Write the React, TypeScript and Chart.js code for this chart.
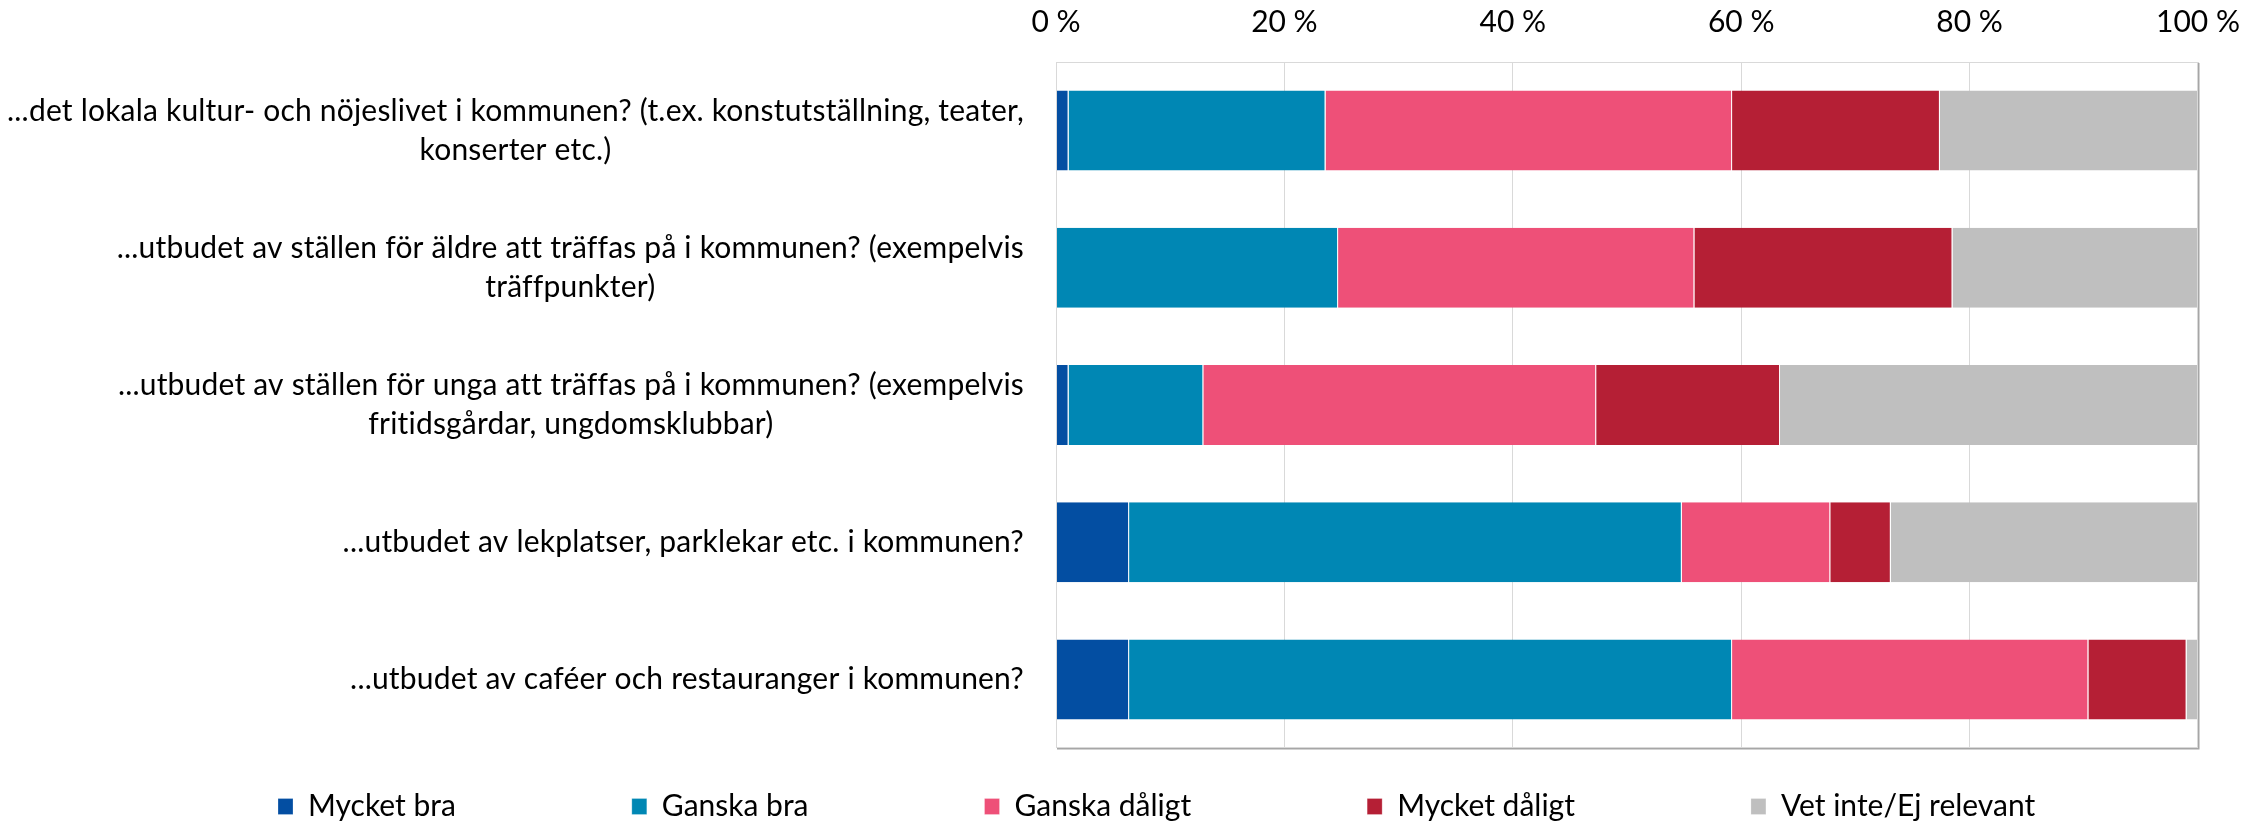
import React, { useEffect, useRef } from 'react';
import { Chart, registerables } from 'chart.js';

Chart.register(...registerables);

const categoryLines: string[][] = [
  ['...det lokala kultur- och nöjeslivet i kommunen? (t.ex. konstutställning, teater,', 'konserter etc.)'],
  ['...utbudet av ställen för äldre att träffas på i kommunen? (exempelvis', 'träffpunkter)'],
  ['...utbudet av ställen för unga att träffas på i kommunen? (exempelvis', 'fritidsgårdar, ungdomsklubbar)'],
  ['...utbudet av lekplatser, parklekar etc. i kommunen?'],
  ['...utbudet av caféer och restauranger i kommunen?'],
];

const seriesNames = ['Mycket bra', 'Ganska bra', 'Ganska dåligt', 'Mycket dåligt', 'Vet inte/Ej relevant'];
const mycketBra = [1.1, 0, 1.1, 6.4, 6.4];
const ganskaBra = [22.5, 24.7, 11.8, 48.4, 52.8];
const ganskaDaligt = [35.6, 31.2, 34.4, 13.0, 31.2];
const mycketDaligt = [18.2, 22.6, 16.1, 5.3, 8.6];
const vetInte = [22.6, 21.5, 36.6, 26.9, 1.0];
const xTickValues = [0, 20, 40, 60, 80, 100];
const seriesColors = ['#034EA2', '#0087B4', '#EE5078', '#B51F35', '#BFBFBF'];

const FONT = 'Lato';
const FONT_SIZE = 30;

const categoryLabelPlugin = {
  id: 'categoryLabels',
  afterDraw(chart: any) {
    const ctx = chart.ctx;
    const yScale = chart.scales.y;
    ctx.save();
    ctx.font = `${FONT_SIZE}px ${FONT}`;
    try {
      (ctx as any).letterSpacing = '0.2px';
    } catch (e) {
      /* ignore */
    }
    ctx.fillStyle = '#000000';
    ctx.textAlign = 'center';
    ctx.textBaseline = 'middle';
    const lineH = 38.5;
    categoryLines.forEach((lines, i) => {
      const cy = yScale.getPixelForValue(i);
      const maxW = Math.max(...lines.map((l) => ctx.measureText(l).width));
      const cx = chart.chartArea.left - 32 - maxW / 2;
      lines.forEach((l, j) => {
        ctx.fillText(l, cx, cy + (j - (lines.length - 1) / 2) * lineH);
      });
    });
    ctx.restore();
  },
};

const framePlugin = {
  id: 'plotFrame',
  afterDatasetsDraw(chart: any) {
    const { left, right, top, bottom } = chart.chartArea;
    const ctx = chart.ctx;
    ctx.save();
    ctx.strokeStyle = '#D9D9D9';
    ctx.lineWidth = 1;
    ctx.strokeRect(left + 0.5, top + 0.5, right - left - 1, bottom - top - 1);
    ctx.strokeStyle = '#A6A6A6';
    ctx.lineWidth = 1.5;
    ctx.beginPath();
    ctx.moveTo(right + 0.75, top + 1);
    ctx.lineTo(right + 0.75, bottom + 0.75);
    ctx.lineTo(left + 1, bottom + 0.75);
    ctx.stroke();
    ctx.restore();
  },
};

const LEGEND_PAD = 176;
const legendPlacePlugin = {
  id: 'legendPlace',
  afterLayout(chart: any) {
    const lg = chart.legend;
    if (!lg) return;
    lg.top = 806.5 - FONT_SIZE / 2 - LEGEND_PAD;
    lg.left = 278 - LEGEND_PAD;
    lg.right = 2264;
    lg.width = lg.right - lg.left;
  },
};

export default function App() {
  const canvasRef = useRef<HTMLCanvasElement | null>(null);

  useEffect(() => {
    const canvas = canvasRef.current;
    if (!canvas) return;
    const values = [mycketBra, ganskaBra, ganskaDaligt, mycketDaligt, vetInte];
    const chart = new Chart(canvas, {
      type: 'bar',
      data: {
        labels: categoryLines.map((l) => l.join(' ')),
        datasets: seriesNames.map((name, i) => ({
          label: name,
          data: values[i],
          backgroundColor: seriesColors[i],
          borderColor: '#FFFFFF',
          borderWidth: { top: 0, bottom: 0, left: 0, right: 1 },
          borderSkipped: false,
          categoryPercentage: 1,
          barPercentage: 0.583,
        })),
      },
      options: {
        indexAxis: 'y',
        animation: false,
        responsive: true,
        maintainAspectRatio: false,
        devicePixelRatio: 1,
        events: [],
        layout: { padding: { left: 0, right: 66, top: 0, bottom: 0 } },
        scales: {
          x: {
            type: 'linear',
            position: 'top',
            stacked: true,
            min: 0,
            max: 100,
            afterBuildTicks: (s: any) => {
              s.ticks = xTickValues.map((v) => ({ value: v }));
            },
            afterFit: (s: any) => {
              s.height = 62;
            },
            grid: { color: '#D9D9D9', lineWidth: 1, drawTicks: false },
            border: { display: false },
            ticks: {
              padding: 22,
              color: '#000000',
              font: { family: FONT, size: FONT_SIZE },
              callback: (v: any) => `${v} %`,
            },
          },
          y: {
            type: 'category',
            stacked: true,
            afterFit: (s: any) => {
              s.width = 1056;
            },
            grid: { display: false },
            border: { display: false },
            ticks: { display: false },
          },
        },
        plugins: {
          tooltip: { enabled: false },
          legend: {
            position: 'bottom',
            align: 'start',
            maxHeight: 73,
            labels: {
              boxWidth: 15,
              boxHeight: 16,
              padding: LEGEND_PAD,
              color: '#000000',
              font: { family: FONT, size: FONT_SIZE },
            },
          },
        },
      } as any,
      plugins: [categoryLabelPlugin, framePlugin, legendPlacePlugin],
    });
    return () => chart.destroy();
  }, []);

  return (
    <div style={{ position: 'fixed', left: 0, top: 0, width: '2264px', height: '821px', background: '#FFFFFF' }}>
      <canvas ref={canvasRef} />
    </div>
  );
}
